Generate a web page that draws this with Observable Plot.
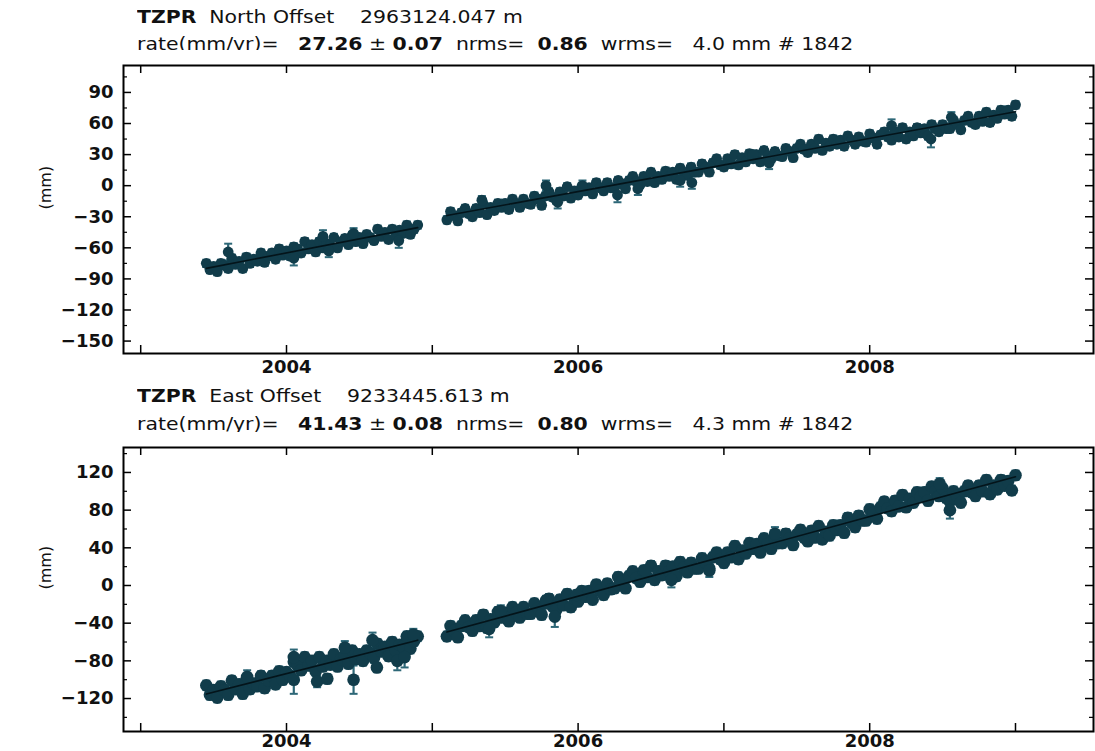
<!DOCTYPE html>
<html><head><meta charset="utf-8">
<script src="https://cdn.jsdelivr.net/npm/d3@7"></script>
<script src="https://cdn.jsdelivr.net/npm/@observablehq/plot@0.6"></script>
<style>
body{margin:0;background:#fff;}
#wrap{position:relative;width:1095px;height:751px;overflow:hidden;background:#fff;font-family:"DejaVu Sans",sans-serif;}
.t{position:absolute;left:137px;white-space:pre;font-size:17px;color:#111;line-height:1;transform:scaleX(1.2);transform-origin:0 0;}
.t b{font-weight:bold;}
.panel{position:absolute;left:0;}
</style></head><body>
<div id="wrap">
  <div class="t" style="top:9px"><b>TZPR</b>  North Offset    2963124.047 m</div>
  <div class="t" style="top:36px">rate(mm/yr)=   <b>27.26</b> ± <b>0.07</b>  nrms=  <b>0.86</b>  wrms=   4.0 mm # 1842</div>
  <div class="t" style="top:388px"><b>TZPR</b>  East Offset    9233445.613 m</div>
  <div class="t" style="top:416px">rate(mm/yr)=   <b>41.43</b> ± <b>0.08</b>  nrms=  <b>0.80</b>  wrms=   4.3 mm # 1842</div>
  <div class="panel" id="p1" style="top:50px"></div>
  <div class="panel" id="p2" style="top:432px"></div>
</div>
<script>
// ---- epochs (decimal years) ----
const epochs1 = [2003.450,2003.475,2003.500,2003.525,2003.550,2003.575,2003.600,2003.625,2003.650,2003.675,2003.700,2003.725,2003.750,2003.775,2003.800,2003.825,2003.850,2003.875,2003.900,2003.925,2003.950,2003.975,2004.000,2004.025,2004.050,2004.075,2004.100,2004.125,2004.150,2004.175,2004.200,2004.225,2004.250,2004.275,2004.300,2004.325,2004.350,2004.375,2004.400,2004.425,2004.450,2004.475,2004.500,2004.525,2004.550,2004.575,2004.600,2004.625,2004.650,2004.675,2004.700,2004.725,2004.750,2004.775,2004.800,2004.825,2004.850,2004.875,2004.900];
const epochs2 = [2005.100,2005.125,2005.150,2005.175,2005.200,2005.225,2005.250,2005.275,2005.300,2005.325,2005.350,2005.375,2005.400,2005.425,2005.450,2005.475,2005.500,2005.525,2005.550,2005.575,2005.600,2005.625,2005.650,2005.675,2005.700,2005.725,2005.750,2005.775,2005.800,2005.825,2005.850,2005.875,2005.900,2005.925,2005.950,2005.975,
2006.000,2006.025,2006.050,2006.075,2006.100,2006.125,2006.150,2006.175,2006.200,2006.225,2006.250,2006.275,2006.300,2006.325,2006.350,2006.375,2006.400,2006.425,2006.450,2006.475,2006.500,2006.525,2006.550,2006.575,2006.600,2006.625,2006.650,2006.675,2006.700,2006.725,2006.750,2006.775,2006.800,2006.825,2006.850,2006.875,2006.900,2006.925,2006.950,2006.975,
2007.000,2007.025,2007.050,2007.075,2007.100,2007.125,2007.150,2007.175,2007.200,2007.225,2007.250,2007.275,2007.300,2007.325,2007.350,2007.375,2007.400,2007.425,2007.450,2007.475,2007.500,2007.525,2007.550,2007.575,2007.600,2007.625,2007.650,2007.675,2007.700,2007.725,2007.750,2007.775,2007.800,2007.825,2007.850,2007.875,2007.900,2007.925,2007.950,2007.975,
2008.000,2008.025,2008.050,2008.075,2008.100,2008.125,2008.150,2008.175,2008.200,2008.225,2008.250,2008.275,2008.300,2008.325,2008.350,2008.375,2008.400,2008.425,2008.450,2008.475,2008.500,2008.525,2008.550,2008.575,2008.600,2008.625,2008.650,2008.675,2008.700,2008.725,2008.750,2008.775,2008.800,2008.825,2008.850,2008.875,2008.900,2008.925,2008.950,2008.975,
2009.000];

// ---- North component (mm) ----
const north1 = [-75,-81,-78,-83,-75,-77,-80,-70,-76,-73,-80,-69,-75,-71,-73,-65,-74,-68,-65,-71,-61,-67,-63,-68,-59,-61,-65,-54,-61,-57,-64,-54,-60,-56,-58,-50,-60,-54,-51,-57,-48,-54,-50,-56,-47,-50,-53,-42,-49,-45,-52,-42,-48,-43,-46,-38,-47,-42,-38];
const north2 = [-33,-25,-29,-34,-26,-22,-27,-30,-22,-26,-18,-28,-21,-24,-17,-21,-17,-23,-13,-17,-21,-13,-17,-18,-10,-13,-19,-10,-6,-11,-14,-6,-10,-1,-12,-5,
-9,-1,-5,-2,-8,3,-2,-5,3,-2,-2,5,2,-3,5,9,4,1,9,4,13,3,9,6,14,9,13,6,17,13,10,18,13,13,21,18,13,22,26,20,
18,26,21,30,20,27,23,31,26,30,23,34,29,26,33,29,28,36,33,27,36,40,35,32,40,36,45,34,41,38,45,40,44,38,48,44,40,47,43,42,
50,46,40,49,52,47,44,52,47,56,45,52,48,56,51,55,48,59,55,52,59,55,55,63,59,54,63,67,61,59,67,62,71,61,68,65,73,69,73,67,
78];
const northSigma = 3.5;
const northOutT = [2003.60,2004.05,2004.25,2004.29,2004.46,2004.77,2005.34,2005.78,2005.86,2006.03,2006.27,2006.41,2006.70,2006.78,2007.20,2007.31,2008.15,2008.42,2008.56];
const northOutV = [-64,-70,-49,-63,-46,-53,-14,0,-16,0,-9,-3,5,3,30,22,58,45,66];
const northOutS = [8,7,6,6,5,7,4,5,6,5,7,6,6,6,4,6,6,8,5];

// ---- East component (mm) ----
const east1 = [-106,-116,-111,-119,-107,-111,-116,-101,-110,-105,-115,-100,-110,-104,-107,-96,-109,-101,-96,-105,-91,-100,-92,-96,-81,-85,-90,-76,-85,-80,-91,-76,-86,-80,-84,-73,-86,-78,-74,-83,-69,-78,-73,-80,-69,-72,-77,-62,-70,-65,-75,-60,-69,-63,-65,-54,-67,-59,-54];
const east2 = [-54,-43,-48,-55,-43,-37,-44,-48,-37,-43,-31,-45,-36,-39,-28,-34,-29,-38,-23,-29,-34,-23,-30,-30,-19,-24,-31,-19,-14,-22,-26,-15,-21,-9,-23,-14,
-17,-6,-12,-6,-15,1,-5,-10,2,-4,-3,9,4,-3,10,15,8,4,16,9,21,6,15,11,21,15,20,10,25,19,14,24,18,18,29,24,18,30,35,28,
24,35,30,42,28,37,34,45,39,44,35,50,44,39,50,45,45,55,50,43,54,59,51,47,58,51,63,49,57,53,64,59,64,56,72,67,62,74,69,69,
81,77,71,83,89,82,79,90,84,96,83,92,88,99,94,99,90,105,100,95,103,93,89,100,95,88,100,106,99,95,106,100,112,97,106,102,112,106,111,101,
117];
const eastSigma = 5;
const eastOutT = [2003.73,2004.05,2004.05,2004.21,2004.28,2004.40,2004.46,2004.59,2004.62,2004.76,2004.81,2004.87,2005.39,2005.47,2005.78,2005.84,2005.99,2006.46,2006.64,2006.87,2006.90,2007.35,2008.48,2008.55];
const eastOutV = [-97,-100,-76,-102,-99,-66,-100,-58,-87,-80,-76,-52,-46,-27,-16,-33,-10,16,6,25,16,55,108,80];
const eastOutS = [7,15,8,6,5,7,15,8,5,10,11,6,9,6,5,11,5,5,8,5,7,7,6,9];

// ---- axes ----
const yearTicks = [2003,2004,2005,2006,2007,2008,2009];
const yearLabels = [2004,2006,2008];
const northMajor = [-150,-120,-90,-60,-30,0,30,60,90];
const northMinor = [-135,-105,-75,-45,-15,15,45,75,105];
const eastMajor = [-120,-80,-40,0,40,80,120];
const eastMinor = [-140,-100,-60,-20,20,60,100,140];

const W = 1095, ML = 123, MR = 2;
const xDomain = [2002.882, 2009.535];
const dotColor = "#113c4a", barColor = "#2d6777", fitColor = "#04141a";
const capSymbol = {draw(ctx, size) { const w = Math.sqrt(size / Math.PI); ctx.moveTo(-w, 0); ctx.lineTo(w, 0); }};

function panel(o) {
  const rows = [
    ...epochs1.map((t, i) => ({t, v: o.vals1[i], s: o.sigma, seg: 1})),
    ...epochs2.map((t, i) => ({t, v: o.vals2[i], s: o.sigma, seg: 2}))
  ];
  const outs = o.outT.map((t, i) => ({t, v: o.outV[i], s: o.outS[i]}));
  const all = rows.concat(outs);
  const caps = all.flatMap(d => [{t: d.t, y: d.v - d.s}, {t: d.t, y: d.v + d.s}]);
  const plotH = o.height - o.mt - o.mb;
  const plotW = W - ML - MR;
  return Plot.plot({
    width: W, height: o.height,
    marginLeft: ML, marginRight: MR, marginTop: o.mt, marginBottom: o.mb,
    x: {domain: xDomain},
    y: {domain: o.yDomain},
    style: {fontFamily: "DejaVu Sans", fontSize: "18px", fontWeight: "bold", color: "#111", background: "white", overflow: "visible"},
    marks: [
      Plot.ruleX(all, {x: "t", y1: d => d.v - d.s, y2: d => d.v + d.s, stroke: barColor, strokeWidth: 2.2}),
      Plot.dot(caps, {x: "t", y: "y", r: 4, symbol: capSymbol, fill: "none", stroke: barColor, strokeWidth: 2}),
      Plot.dot(all, {x: "t", y: "v", r: o.r, fill: dotColor}),
      Plot.linearRegressionY(rows, {x: "t", y: "v", z: "seg", stroke: fitColor, strokeWidth: 1.6, ci: 0}),
      Plot.frame({stroke: "#000", strokeWidth: 2}),
      Plot.tickX(yearTicks, {x: d => d, insetTop: plotH - 8, stroke: "#000", strokeWidth: 1.5}),
      Plot.tickX(yearTicks, {x: d => d, insetBottom: plotH - 8, stroke: "#000", strokeWidth: 1.5}),
      Plot.tickY(o.major, {y: d => d, insetRight: plotW - 8, stroke: "#000", strokeWidth: 1.5}),
      Plot.tickY(o.major, {y: d => d, insetLeft: plotW - 8, stroke: "#000", strokeWidth: 1.5}),
      Plot.tickY(o.minor, {y: d => d, insetRight: plotW - 4, stroke: "#000", strokeWidth: 1.2}),
      Plot.tickY(o.minor, {y: d => d, insetLeft: plotW - 4, stroke: "#000", strokeWidth: 1.2}),
      Plot.axisY({ticks: o.major, tickSize: 0, tickPadding: 10, label: null}),
      Plot.axisX({ticks: yearLabels, tickSize: 0, tickPadding: o.tickPad, tickFormat: d => String(d), label: null}),
      Plot.text(["(mm)"], {frameAnchor: "left", rotate: -90, dx: -78, fontWeight: "normal", fontSize: 16, fill: "#111"})
    ]
  });
}

document.getElementById("p1").appendChild(panel({
  vals1: north1, vals2: north2, sigma: northSigma, r: 5.4,
  outT: northOutT, outV: northOutV, outS: northOutS,
  yDomain: [-162, 116], major: northMajor, minor: northMinor,
  height: 330, mt: 15, mb: 27, tickPad: 7
}));
document.getElementById("p2").appendChild(panel({
  vals1: east1, vals2: east2, sigma: eastSigma, r: 6.3,
  outT: eastOutT, outV: eastOutV, outS: eastOutS,
  yDomain: [-155, 146.5], major: eastMajor, minor: eastMinor,
  height: 319, mt: 15, mb: 20, tickPad: 3
}));
</script>
</body></html>
